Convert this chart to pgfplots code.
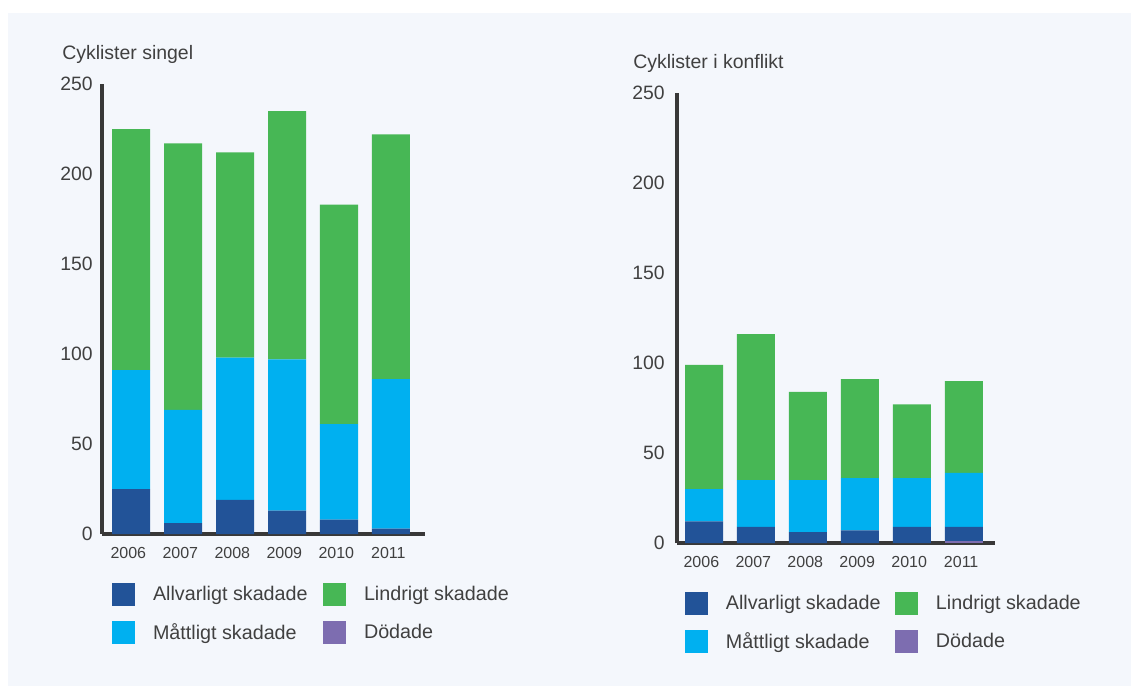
\documentclass[border=0pt]{standalone}
\usepackage{pgfplots}
\pgfplotsset{compat=1.18}
\usepackage{pgfplotstable}
\usepackage{fontspec}
\setmainfont{Liberation Sans}

\definecolor{panelbg}{HTML}{F4F7FC}
\definecolor{dodade}{HTML}{7D6DB0}
\definecolor{allvar}{HTML}{225398}
\definecolor{mattl}{HTML}{00B0F0}
\definecolor{lindr}{HTML}{47B755}
\definecolor{axisgray}{HTML}{383838}
\definecolor{txtgray}{HTML}{404040}

% cyclists in single accidents
\pgfplotstableread{
idx dod allv matt lind
0   0   25   66   134
1   0   6    63   148
2   0   19   79   114
3   0   13   84   138
4   0   8    53   122
5   0   3    83   136
}\singel

% cyclists in conflict
\pgfplotstableread{
idx dod allv matt lind
0   0   12   18   69
1   0   9    26   81
2   0   6    29   49
3   0   7    29   55
4   0   9    27   41
5   1   8    30   51
}\konflikt

\pgfplotsset{
  skade/.style={
    scale only axis, height=337.5pt,
    ybar stacked, bar width=28.5pt,
    legend image code/.code={%
      \fill[##1] (0pt,-8.625pt) rectangle (17.25pt,8.625pt);
      \path[draw=none, fill=none] (30.75pt,0pt);
    },
    ymin=0, ymax=250, ytick={0,50,...,250},
    enlargelimits=false,
    xtick={0,...,5}, xticklabels={2006,2007,2008,2009,2010,2011},
    axis x line*=bottom, axis y line*=left,
    axis line style={-, line width=3.5pt, draw=axisgray},
    major tick length=0pt,
    /pgf/number format/assume math mode=true,
    yticklabel style={font=\fontsize{14.5}{16}\selectfont, text=txtgray, anchor=east, inner sep=0pt},
    xticklabel style={font=\fontsize{12}{14}\selectfont, text=txtgray, anchor=north, inner sep=0pt, yshift=-9.75pt, xshift=-2pt},
    legend columns=2, legend cell align=left,
    legend style={draw=none, fill=none, inner sep=0pt, outer sep=0pt,
      anchor=north west, row sep=11.25pt, column sep=0pt,
      font=\fontsize{14.8}{16}\selectfont, text=txtgray,
      nodes={inner sep=0pt}},
  },
}

\begin{document}
\begin{tikzpicture}[x=0.75pt, y=0.75pt]
\useasboundingbox (0,0) rectangle (1131,686);
\fill[white] (0,0) rectangle (1131,686);
\fill[panelbg] (8,0) rectangle (1131,673);

\begin{axis}[skade, at={(76.5pt,114pt)}, anchor=south west,
  width=242.25pt, xmin=-0.558, xmax=5.654,
  yticklabel style={xshift=-6.75pt},
  legend style={at={(axis description cs:0.031,-0.108)}}]
  \addplot[fill=dodade, draw=none, forget plot] table[x=idx, y=dod] {\singel};
  \addplot[fill=allvar, draw=none, forget plot] table[x=idx, y=allv] {\singel};
  \addplot[fill=mattl, draw=none, forget plot] table[x=idx, y=matt] {\singel};
  \addplot[fill=lindr, draw=none, forget plot] table[x=idx, y=lind] {\singel};
  \addlegendimage{fill=allvar, draw=none}
  \addlegendentry{\makebox[127.5pt][l]{Allvarligt skadade}}
  \addlegendimage{fill=lindr, draw=none}
  \addlegendentry{Lindrigt skadade}
  \addlegendimage{fill=mattl, draw=none}
  \addlegendentry{\makebox[127.5pt][l]{Måttligt skadade}}
  \addlegendimage{fill=dodade, draw=none}
  \addlegendentry{Dödade}
\end{axis}
\node[anchor=base west, inner sep=0pt, font=\fontsize{14.6}{16}\selectfont, text=txtgray] at (62,626) {Cyklister singel};

\begin{axis}[skade, at={(507.75pt,107.25pt)}, anchor=south west,
  width=238.5pt, xmin=-0.52, xmax=5.6,
  yticklabel style={xshift=-9pt},
  legend style={at={(axis description cs:0.025,-0.108)}}]
  \addplot[fill=dodade, draw=none, forget plot] table[x=idx, y=dod] {\konflikt};
  \addplot[fill=allvar, draw=none, forget plot] table[x=idx, y=allv] {\konflikt};
  \addplot[fill=mattl, draw=none, forget plot] table[x=idx, y=matt] {\konflikt};
  \addplot[fill=lindr, draw=none, forget plot] table[x=idx, y=lind] {\konflikt};
  \addlegendimage{fill=allvar, draw=none}
  \addlegendentry{\makebox[126.75pt][l]{Allvarligt skadade}}
  \addlegendimage{fill=lindr, draw=none}
  \addlegendentry{Lindrigt skadade}
  \addlegendimage{fill=mattl, draw=none}
  \addlegendentry{\makebox[126.75pt][l]{Måttligt skadade}}
  \addlegendimage{fill=dodade, draw=none}
  \addlegendentry{Dödade}
\end{axis}
\node[anchor=base west, inner sep=0pt, font=\fontsize{14.6}{16}\selectfont, text=txtgray] at (633,617) {Cyklister i konflikt};
\end{tikzpicture}
\end{document}
